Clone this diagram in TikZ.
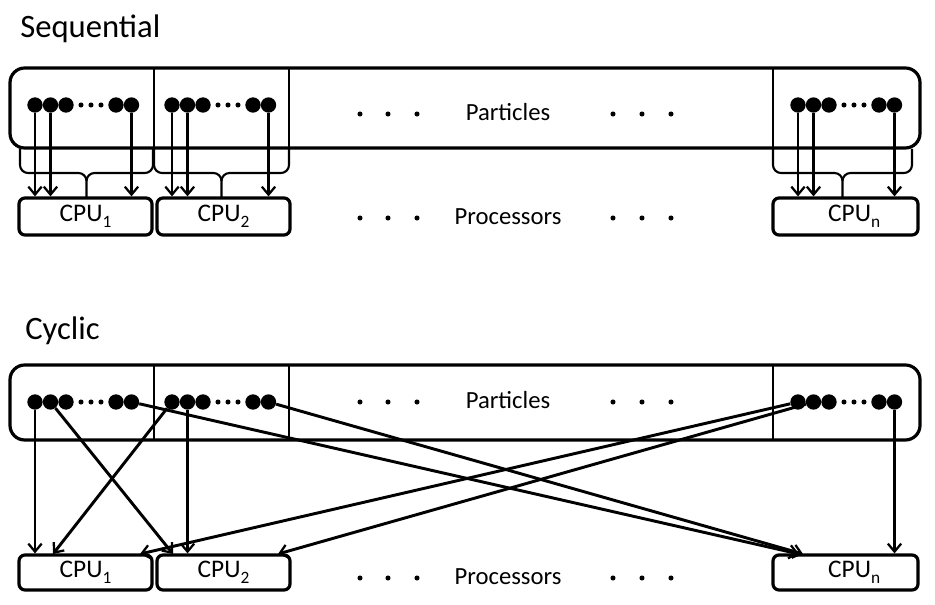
\documentclass[tikz,border=0pt]{standalone}
\usepackage{fontspec}
\setmainfont{Carlito}
\usetikzlibrary{arrows.meta,calc}
\newcommand\mysub[1]{\raisebox{-4.5pt}{\fontsize{13}{14}\selectfont #1}}
\begin{document}
\begin{tikzpicture}[x=0.75pt,y=-0.75pt,
 bigbox/.style={draw,line width=2.4pt,rounded corners=11pt,minimum width=682.5pt,inner sep=0},
 cpubox/.style={draw,line width=2.4pt,rounded corners=4.5pt,inner sep=0,font=\fontsize{19}{20}\selectfont},
 bigdot/.style={circle,fill=black,inner sep=0,minimum size=11.5pt},
 smalldot/.style={circle,fill=black,inner sep=0,minimum size=3.8pt},
 divider/.style={line width=1.6pt},
 arr/.style={line width=2.2pt,-{Straight Barb[length=6pt,width=10pt,line width=1.7pt]}},
 bracestyle/.style={line width=1.6pt},
 lbl/.style={font=\fontsize{18.5}{20}\selectfont,inner sep=0},
 titletext/.style={font=\fontsize{24.5}{26}\selectfont,inner sep=0,anchor=base west}]
\useasboundingbox (0,0) rectangle (935,605);

% ---------------- Sequential ----------------
\node[titletext] (seqt) at (20,38) {Sequential};
\node[bigbox,minimum height=60pt] (pbox) at (465,108) {};
\draw[divider] (154,68) -- (154,148);
\draw[divider] (289,68) -- (289,148);
\draw[divider] (773,68) -- (773,148);

\foreach \g/\x in {1/35,2/172,3/798} {
  \foreach \n/\o in {a/0,b/15.5,c/31,g/81,h/96.5}
    \node[bigdot] (s\g\n) at (\x+\o,105) {};
  \foreach \n/\o in {d/46,e/56,f/66}
    \node[smalldot] (s\g\n) at (\x+\o,105) {};
}

\node[lbl] (ptxt) at (508,112) {Particles};
\node[lbl] (prtxt) at (508,217) {Processors};
\foreach \i/\x in {1/360,2/388,3/417,4/613,5/642,6/671} {
  \node[smalldot] (pm\i) at (\x,114) {};
  \node[smalldot] (qm\i) at (\x,218) {};
}

\node[cpubox,minimum width=99.75pt,minimum height=27.75pt] (c1) at (85.5,216.5) {CPU\mysub{1}};
\node[cpubox,minimum width=99.75pt,minimum height=27.75pt] (c2) at (223.5,216.5) {CPU\mysub{2}};
\node[cpubox,minimum width=108.75pt,minimum height=27.75pt] (cn) at (845.5,216.5) {\hspace*{13pt}CPU\mysub{n}};

\foreach \L/\M/\R in {20/86.5/153,154/221.5/289,773/842.5/912} {
  \draw[bracestyle] (\L,149) -- (\L,165) to[out=-90,in=180] (\L+8,173) -- (\M-8,173)
     to[out=0,in=90] (\M,181) -- (\M,197);
  \draw[bracestyle] (\R,149) -- (\R,165) to[out=-90,in=0] (\R-8,173) -- (\M+8,173)
     to[out=180,in=90] (\M,181);
}

\foreach \g/\c in {1/c1,2/c2,3/cn} {
  \foreach \n in {a,b,h}
    \draw[arr] (s\g\n) -- (s\g\n |- \c.north);
}

% ---------------- Cyclic ----------------
\node[titletext] (cyct) at (25,340) {Cyclic};
\node[bigbox,minimum height=56.25pt] (kbox) at (465,402.5) {};
\draw[divider] (154,365) -- (154,440);
\draw[divider] (289,365) -- (289,440);
\draw[divider] (773,365) -- (773,440);

\foreach \g/\x in {1/35,2/172,3/798} {
  \foreach \n/\o in {a/0,b/15.5,c/31,g/81,h/96.5}
    \node[bigdot] (d\g\n) at (\x+\o,402) {};
  \foreach \n/\o in {d/46,e/56,f/66}
    \node[smalldot] (d\g\n) at (\x+\o,402) {};
}

\node[lbl] (ktxt) at (508,400) {Particles};
\node[lbl] (krtxt) at (508,577) {Processors};
\foreach \i/\x in {1/360,2/388,3/417,4/613,5/642,6/671} {
  \node[smalldot] (km\i) at (\x,402) {};
  \node[smalldot] (lm\i) at (\x,578) {};
}

\node[cpubox,minimum width=99.75pt,minimum height=26.25pt] (q1) at (85.5,572.5) {CPU\mysub{1}};
\node[cpubox,minimum width=99.75pt,minimum height=26.25pt] (q2) at (223.5,572.5) {CPU\mysub{2}};
\node[cpubox,minimum width=108.75pt,minimum height=26.25pt] (qn) at (845.5,572.5) {\hspace*{13pt}CPU\mysub{n}};

\coordinate (t1b) at (53,554);
\coordinate (t1c) at (140,554);
\coordinate (t2a) at (173,554);
\coordinate (t2c) at (278,554);
\coordinate (tna) at (799,554);
\coordinate (tnb) at (803,554);

\draw[arr] (d1a) -- (d1a |- q1.north);
\draw[arr] (d1b) -- (t2a);
\draw[arr] (d1h) -- (tna);
\draw[arr] (d2a) -- (t1b);
\draw[arr] (d2b) -- (d2b |- q2.north);
\draw[arr] (d2h) -- (tnb);
\draw[arr] (d3a) -- (t1c);
\draw[arr] (d3b) -- (t2c);
\draw[arr] (d3h) -- (d3h |- qn.north);
\end{tikzpicture}
\end{document}
